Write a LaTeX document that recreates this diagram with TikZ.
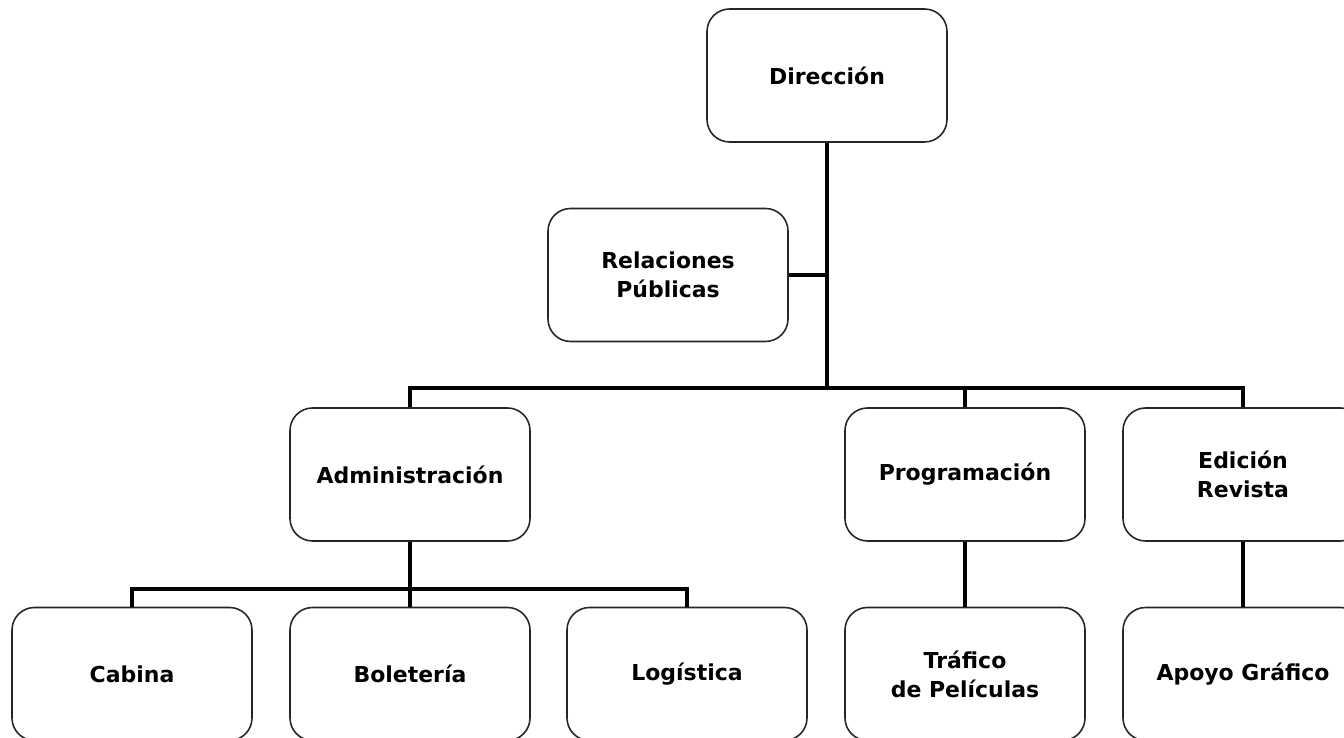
\documentclass[tikz,border=0pt]{standalone}
\usepackage{fontspec}
\setmainfont{DejaVu Sans}
\begin{document}
\begin{tikzpicture}[text centered]
    \tikzset{%
      caja/.style={draw=black!85, line width=0.9pt, fill=white, rounded corners=0.45cm,
        minimum width=4.8cm, minimum height=2.66cm, inner sep=0pt, align=center,
        font=\fontsize{12.5}{16.5}\selectfont\bfseries},
      rama/.style={line width=2.3pt}
      }
    \clip (0,0) rectangle (26.88,14.76);

    \node [caja] (Ydir) at (16.54, 13.25) {Dirección};
    \node [caja] (Yrel) at (13.36, 9.26) {Relaciones\\Públicas};

    \node [caja] (Yadm) at (8.2, 5.27) {Administración};
    \node [caja] (Yprog) at (19.3, 5.27) {Programación};
    \node [caja] (Yed) at (24.86, 5.27) {Edición\\Revista};

    \node [caja] (Ycab) at (2.64, 1.28) {Cabina};
    \node [caja] (Ybol) at (8.2, 1.28) {Boletería};
    \node [caja] (Ylog) at (13.74, 1.28) {Logística};
    \node [caja] (Ytraf) at (19.3, 1.28) {Tráfico\\de Películas};
    \node [caja] (Yapo) at (24.86, 1.28) {Apoyo Gráfico};

    \coordinate (Ybus) at (16.54, 7.0);
    \coordinate (Ybus2) at (8.2, 2.98);

    \draw [rama] (Ydir.south) -- (Ybus);
    \draw [rama] (Yrel.east) -- (Yrel.east -| Ybus);
    \draw [rama] (Yadm.north) |- (Yed.north |- Ybus) -- (Yed.north);
    \draw [rama] (Yprog.north) -- (Yprog.north |- Ybus);

    \draw [rama] (Yadm.south) -- (Ybol.north);
    \draw [rama] (Ycab.north) |- (Ylog.north |- Ybus2) -- (Ylog.north);

    \draw [rama] (Yprog.south) -- (Ytraf.north);
    \draw [rama] (Yed.south) -- (Yapo.north);

  \end{tikzpicture}
\end{document}
